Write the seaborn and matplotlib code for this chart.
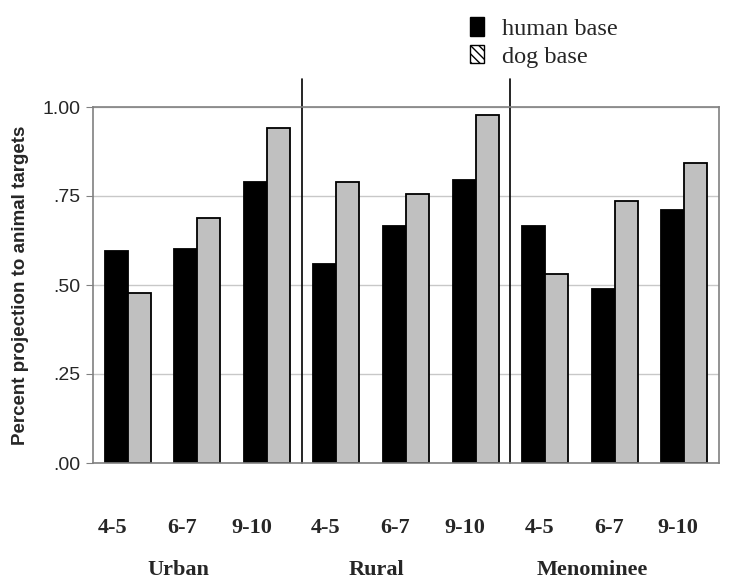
import matplotlib
matplotlib.use("Agg")
import matplotlib.pyplot as plt
from matplotlib.patches import Patch
import matplotlib.transforms as mtransforms
import pandas as pd
import seaborn as sns

communities = ["Urban", "Rural", "Menominee"]
ages = ["4-5", "6-7", "9-10"]
human_base = [0.596, 0.601, 0.790, 0.558, 0.667, 0.795, 0.667, 0.488, 0.711]
dog_base = [0.478, 0.688, 0.942, 0.788, 0.757, 0.978, 0.531, 0.737, 0.842]

groups = [c + " " + a for c in communities for a in ages]
df = pd.DataFrame({
    "group": groups * 2,
    "base": ["human base"] * len(groups) + ["dog base"] * len(groups),
    "value": human_base + dog_base,
})

sns.set_style("white")
serif = ["Liberation Serif", "DejaVu Serif"]
sans = ["Liberation Sans", "DejaVu Sans"]

fig = plt.figure(figsize=(7.35, 5.87), dpi=100)
ax = fig.add_axes([93 / 735, 124 / 587, 626 / 735, 356 / 587])

ax.yaxis.grid(True, color="#c8c8c8", linewidth=1)
ax.set_axisbelow(True)
sns.barplot(data=df, x="group", y="value", hue="base", order=groups,
            hue_order=["human base", "dog base"],
            palette={"human base": "black", "dog base": "#c0c0c0"},
            edgecolor="black", linewidth=1.3, width=0.66, gap=0,
            legend=False, ax=ax)

ax.set_ylim(0, 1.0)
ax.set_xlim(-0.5, len(groups) - 0.5)
ax.set_yticks([0, 0.25, 0.5, 0.75, 1.0])
ax.set_yticklabels([".00", ".25", ".50", ".75", "1.00"], family=sans, fontsize=14)
ax.tick_params(axis="y", left=True, length=5, color="#808080", pad=4)
ax.set_xticks(range(len(groups)))
ax.set_xticklabels(ages * 3, family=serif, fontsize=16, fontweight="bold")
ax.tick_params(axis="x", bottom=False, pad=36)
# labels sit a little left of the bar pairs, as in the original
for lab, dx in zip(ax.get_xticklabels(), [-15] * 3 + [-11] * 3 + [-6] * 3):
    lab.set_transform(lab.get_transform() +
                      mtransforms.ScaledTranslation(dx / 100, 0, fig.dpi_scale_trans))
ax.set_xlabel("")
ax.set_ylabel("Percent projection to animal targets", family=sans,
              fontsize=13.5, fontweight="bold", labelpad=10)

for side in ["left", "right", "top", "bottom"]:
    ax.spines[side].set_color("#808080")
    ax.spines[side].set_linewidth(1.2)

# separators between communities
for b in [2.5, 5.5]:
    ax.plot([b, b], [0, 1.08], color="black", linewidth=1.2, clip_on=False)

# community labels
trans = mtransforms.blended_transform_factory(ax.transData, ax.transAxes)
for i, (c, off) in enumerate(zip(communities, [0.72, 0.57, 0.68])):
    ax.text(i * 3 + off, -0.30, c, transform=trans, ha="center", va="center",
            family=serif, fontsize=16, fontweight="bold")

handles = [Patch(facecolor="black", edgecolor="black"),
           Patch(facecolor="white", edgecolor="black", hatch="\\\\\\\\")]
fig.legend(handles, ["human base", "dog base"], loc="upper left",
           bbox_to_anchor=(458 / 735, 1 - 5 / 587), frameon=False, borderpad=0.0,
           prop={"family": serif, "size": 17.5}, handlelength=0.55,
           handleheight=0.8, handletextpad=0.75, labelspacing=0.2)

fig.savefig("out.png", dpi=100)
